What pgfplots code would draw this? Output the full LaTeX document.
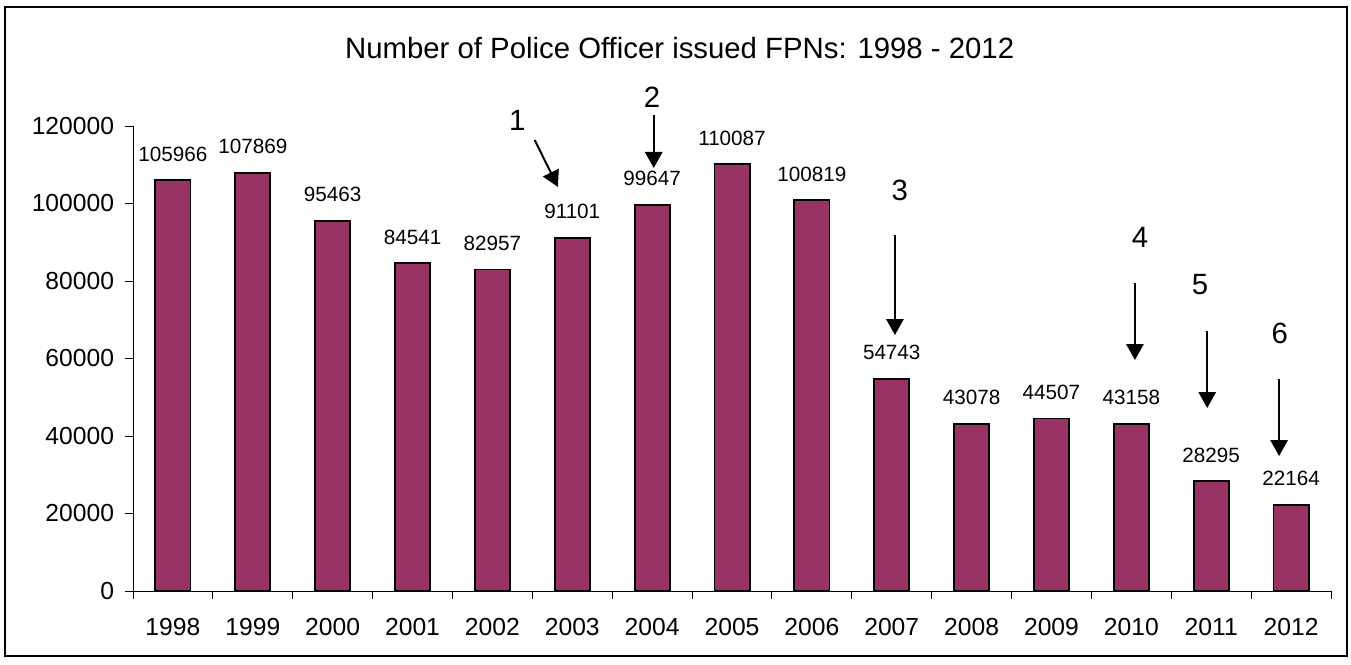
\documentclass[border=0pt]{standalone}
\usepackage{pgfplots}
\pgfplotsset{compat=1.18}
\usepackage{fontspec}
\setmainfont{Liberation Sans}
\usetikzlibrary{arrows.meta}
\definecolor{barc}{HTML}{993366}
\begin{document}
\begin{tikzpicture}
\begin{axis}[
  name=ax,
  scale only axis, width=898.5pt, height=348.75pt,
  xmin=-0.5, xmax=14.5, ymin=0, ymax=120000,
  clip=false,
  axis x line*=bottom, axis y line*=left,
  axis line style={line width=0.7pt,-},
  ytick={0,20000,40000,60000,80000,100000,120000},
  scaled y ticks=false,
  /pgf/number format/fixed,
  /pgf/number format/precision=0,
  /pgf/number format/1000 sep={},
  /pgf/number format/assume math mode=true,
  xtick={-0.5,0.5,...,14.5},
  xticklabels={},
  extra x ticks={0,1,...,14},
  extra x tick labels={1998,1999,2000,2001,2002,2003,2004,2005,2006,2007,2008,2009,2010,2011,2012},
  extra x tick style={tick style={draw=none}},
  tick align=outside,
  major tick length=6pt,
  tick style={line width=0.7pt, black},
  ticklabel style={font=\fontsize{18.5}{22}\selectfont},
  yticklabel style={inner sep=0pt, xshift=-8pt},
  xticklabel style={inner sep=0pt, yshift=-14pt},
  ybar, bar width=0.44,
  nodes near coords,
  point meta=y,
  nodes near coords style={font=\fontsize{15.5}{18}\selectfont, anchor=south, inner sep=0pt, yshift=13.5pt},
]
\addplot[fill=barc, draw=black, line width=1.4pt] coordinates {
(0,105966) (1,107869) (2,95463) (3,84541) (4,82957) (5,91101) (6,99647) (7,110087)
(8,100819) (9,54743) (10,43078) (11,44507) (12,43158) (13,28295) (14,22164)};

\begin{scope}[every node/.style={font=\fontsize{22}{26}\selectfont}]
\node at (axis cs:4.31,121548) {1};
\node at (axis cs:6.0,127484) {2};
\node at (axis cs:9.10,103482) {3};
\node at (axis cs:12.11,91353) {4};
\node at (axis cs:12.86,78966) {5};
\node at (axis cs:13.86,66580) {6};
\end{scope}
\begin{scope}[line width=1.5pt, -{Triangle[width=13pt,length=12pt]}]
\draw (axis cs:4.53,116385) -- (axis cs:4.82,104273);
\draw (axis cs:6.02,122837) -- (axis cs:6.02,109161);
\draw (axis cs:9.04,91869) -- (axis cs:9.04,66063);
\draw (axis cs:12.045,79483) -- (axis cs:12.045,59612);
\draw (axis cs:12.95,67096) -- (axis cs:12.95,47225);
\draw (axis cs:13.85,54709) -- (axis cs:13.85,34838);
\end{scope}
\end{axis}
\path ([shift={(-99.75pt,-54.75pt)}]ax.south west) rectangle ([shift={(913.5pt,443.25pt)}]ax.south west);
\draw[line width=1.8pt] ([shift={(-96pt,-48.75pt)}]ax.south west) rectangle ([shift={(910.5pt,438pt)}]ax.south west);
\node[anchor=base, font=\fontsize{22}{26}\selectfont, inner sep=0pt] at ([shift={(410pt,399pt)}]ax.south west) {Number of Police Officer issued FPNs: 1998 - 2012};
\end{tikzpicture}
\end{document}
